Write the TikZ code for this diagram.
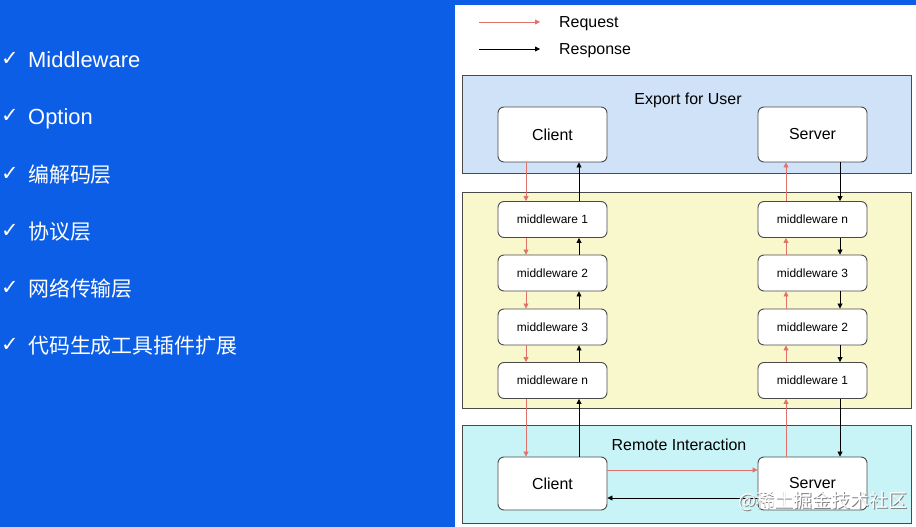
\documentclass[tikz,border=0pt]{standalone}
\usepackage{fontspec}
\setmainfont{Liberation Sans}
\newfontfamily\cjk{Noto Sans CJK SC}
\newfontfamily\dejavu{DejaVu Sans}
\usetikzlibrary{arrows.meta}
\definecolor{bgblue}{HTML}{0C5EE6}
\definecolor{reqred}{HTML}{E0716C}
\definecolor{expblue}{HTML}{CFE2F8}
\definecolor{midyel}{HTML}{F9F8CC}
\definecolor{remcyan}{HTML}{C8F4F7}
\definecolor{edgegray}{HTML}{4A4A4A}
\begin{document}
\begin{tikzpicture}[x=1bp,y=-1bp,
  box/.style={draw=edgegray, line width=0.9bp, rounded corners=6bp, fill=white,
    minimum width=109bp, inner sep=0pt, font=\fontsize{16}{19}\selectfont},
  mwbox/.style={box, minimum height=36bp, font=\fontsize{12}{14}\selectfont},
  bigbox/.style={box, minimum height=55bp},
  container/.style={draw=edgegray, line width=1bp},
  req/.style={draw=reqred, line width=0.8bp, -{Triangle[length=5bp,width=5bp]}},
  resp/.style={draw=black, line width=0.8bp, -{Triangle[length=5bp,width=5bp]}},
  lbl/.style={anchor=base, inner sep=0pt, font=\fontsize{16}{19}\selectfont},
  chk/.style={anchor=base west, inner sep=0pt, text=white, font=\dejavu\fontsize{21}{25}\selectfont},
  item/.style={anchor=base west, inner sep=0pt, text=white, font=\fontsize{22}{26}\selectfont},
  citem/.style={anchor=base west, inner sep=0pt, text=white, font=\cjk\fontsize{21}{25}\selectfont}
]
\useasboundingbox (0,0) rectangle (916,527);
% backgrounds
\fill[bgblue] (0,0) rectangle (916,527);
\fill[white] (455,5) rectangle (916,527);

% left checklist
\node[chk] (k1) at (1,66) {✓};
\node[item] (t1) at (28,68) {Middleware};
\node[chk] (k2) at (1,123) {✓};
\node[item] (t2) at (28,125) {Option};
\node[chk] (k3) at (1,181) {✓};
\node[citem] (t3) at (28,183) {编解码层};
\node[chk] (k4) at (1,238) {✓};
\node[citem] (t4) at (28,240) {协议层};
\node[chk] (k5) at (1,295) {✓};
\node[citem] (t5) at (28,297) {网络传输层};
\node[chk] (k6) at (1,352) {✓};
\node[citem] (t6) at (28,354) {代码生成工具插件扩展};

% legend
\coordinate (lr1) at (479,22);
\coordinate (lr2) at (540,22);
\coordinate (lb1) at (479,49);
\coordinate (lb2) at (540,49);
\draw[req] (lr1) -- (lr2);
\draw[resp] (lb1) -- (lb2);
\node[lbl, anchor=base west] (lreq) at (559,28) {Request};
\node[lbl, anchor=base west] (lresp) at (559,55) {Response};

% containers
\draw[container, fill=expblue] (462,76) rectangle (911,174);
\draw[container, fill=midyel] (462,193) rectangle (911,408);
\draw[container, fill=remcyan] (462,425) rectangle (911,523);
\node[lbl] (cexp) at (688,105) {Export for User};
\node[lbl] (crem) at (679,450) {Remote Interaction};

% nodes
\node[bigbox] (cT) at (552.5,134.5) {Client};
\node[bigbox] (sT) at (812.5,134.5) {Server};

\node[mwbox] (mL1) at (552.5,219.5) {middleware 1};
\node[mwbox] (mL2) at (552.5,273) {middleware 2};
\node[mwbox] (mL3) at (552.5,327) {middleware 3};
\node[mwbox] (mL4) at (552.5,380.5) {middleware n};

\node[mwbox] (mR1) at (812.5,219.5) {middleware n};
\node[mwbox] (mR2) at (812.5,273) {middleware 3};
\node[mwbox] (mR3) at (812.5,327) {middleware 2};
\node[mwbox] (mR4) at (812.5,380.5) {middleware 1};

\node[box, minimum height=53bp] (cB) at (552.5,483.5) {Client};
\node[box, minimum height=53bp] (sB) at (812.5,483.5) {Server};

% left column arrows
\foreach \a/\b in {cT/mL1, mL1/mL2, mL2/mL3, mL3/mL4, mL4/cB}{
  \draw[req] ([xshift=-26.5bp]\a.south) -- ([xshift=-26.5bp]\b.north);
  \draw[resp] ([xshift=26.5bp]\b.north) -- ([xshift=26.5bp]\a.south);
}
% right column arrows
\foreach \a/\b in {sT/mR1, mR1/mR2, mR2/mR3, mR3/mR4, mR4/sB}{
  \draw[req] ([xshift=-26.5bp]\b.north) -- ([xshift=-26.5bp]\a.south);
  \draw[resp] ([xshift=27.5bp]\a.south) -- ([xshift=27.5bp]\b.north);
}
% remote interaction
\draw[req] ([yshift=13.5bp]cB.east) -- ([yshift=13.5bp]sB.west);
\draw[resp] ([yshift=-14.5bp]sB.west) -- ([yshift=-14.5bp]cB.east);

% site mark
\node[anchor=west, inner sep=0pt, text=gray, font=\cjk\fontsize{19}{22}\selectfont] (wm0) at (738.8,501.8) {@稀土掘金技术社区};
\node[anchor=west, inner sep=0pt, text=white, font=\cjk\fontsize{19}{22}\selectfont] (wm) at (738,501) {@稀土掘金技术社区};
\end{tikzpicture}
\end{document}
